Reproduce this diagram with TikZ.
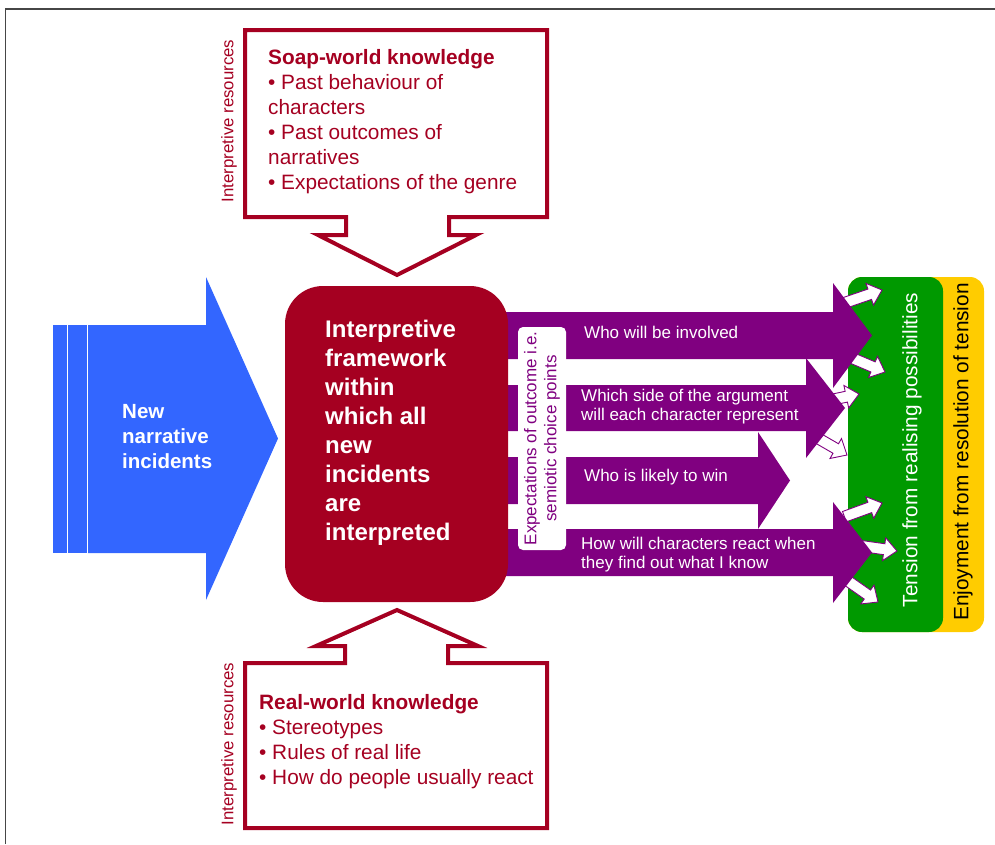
\documentclass[tikz,border=0pt]{standalone}
\usepackage{fontspec}
\setmainfont{Liberation Sans}
\definecolor{soapred}{RGB}{165,0,33}
\definecolor{incidentblue}{RGB}{51,102,255}
\definecolor{choicepurple}{RGB}{128,0,128}
\definecolor{tensiongreen}{RGB}{0,153,0}
\definecolor{enjoyyellow}{RGB}{255,204,0}
\definecolor{framegray}{RGB}{70,70,70}

\tikzset{
  callout/.style={draw=soapred, line width=4pt, fill=white, line join=miter, miter limit=10},
  calltext/.style={anchor=west, align=left, inner sep=0pt, text=soapred,
    font=\fontsize{20.8}{25}\selectfont},
  sidelabel/.style={rotate=90, inner sep=0pt, text=soapred,
    font=\fontsize{16.8}{19}\selectfont},
  choicearrow/.style={fill=choicepurple},
  optiontext/.style={anchor=west, align=left, inner sep=0pt, text=white,
    font=\fontsize{17}{19.5}\selectfont},
  smallarrow/.pic={
    \filldraw[draw=choicepurple, fill=white, line width=0.9pt, line join=miter]
      (-40,-5.5) -- (-13,-5.5) -- (-13,-11.5) -- (0,0) -- (-13,11.5) -- (-13,5.5) -- (-40,5.5) -- cycle;
  },
}

\begin{document}
\begin{tikzpicture}[x=1pt, y=-1pt]
\useasboundingbox (0,0) rectangle (995,844);

% outer frame (left and top edges)
\draw[framegray, line width=1.6pt] (5.5,844) -- (5.5,9) -- (995,9);

% outcome boxes: enjoyment behind tension
\fill[enjoyyellow, rounded corners=14pt] (848,277) rectangle (984,632);
\fill[tensiongreen, rounded corners=14pt] (848,277) rectangle (943,632);
\node[rotate=90, inner sep=0pt, text=white, font=\fontsize{20.8}{25}\selectfont]
  (tension) at (912,450) {Tension from realising possibilities};
\node[rotate=90, inner sep=0pt, text=black, font=\fontsize{20.8}{25}\selectfont]
  (enjoy) at (963,452) {Enjoyment from resolution of tension};

% small arrows feeding the tension box
\pic[rotate=19]  at (882,290) {smallarrow};
\pic[rotate=-23] at (885,372) {smallarrow};
\pic[rotate=12]  at (859,394) {smallarrow};
\pic[rotate=-30] at (847,455) {smallarrow};
\pic[rotate=20]  at (882,503) {smallarrow};
\pic[rotate=-8]  at (897,551) {smallarrow};
\pic[rotate=-35] at (878,602) {smallarrow};

% the four choice-point arrows
\fill[choicearrow] (480,312) -- (833,312) -- (833,283) -- (872,335.5) -- (833,388) -- (833,359) -- (480,359) -- cycle;
\fill[choicearrow] (480,385) -- (806,385) -- (806,358) -- (845,408) -- (806,458) -- (806,431) -- (480,431) -- cycle;
\fill[choicearrow] (480,457) -- (758,457) -- (758,432) -- (790,480.5) -- (758,529) -- (758,504) -- (480,504) -- cycle;
\fill[choicearrow] (480,529) -- (833,529) -- (833,502) -- (872,552.5) -- (833,603) -- (833,576) -- (480,576) -- cycle;

\node[optiontext] (opt1) at (584,332) {Who will be involved};
\node[optiontext] (opt2) at (581,406.5) {Which side of the argument\\will each character represent};
\node[optiontext] (opt3) at (584,477) {Who is likely to win};
\node[optiontext] (opt4) at (581,554.5) {How will characters react when\\they find out what I know};

% incoming narrative incidents (striped block arrow)
\fill[incidentblue] (53,325) rectangle (66.5,553);
\fill[incidentblue] (68,325) rectangle (86.5,553);
\fill[incidentblue] (88,325) -- (206,325) -- (206,277) -- (278,438.5) -- (206,600) -- (206,553) -- (88,553) -- cycle;
\node[anchor=west, align=left, inner sep=0pt, text=white,
  font=\fontsize{20.5}{25}\bfseries] (incidents) at (122,437) {New\\narrative\\incidents};

% interpretive framework
\fill[soapred, rounded corners=38pt] (285,286) rectangle (508,602);
\node[anchor=west, align=left, inner sep=0pt, text=white,
  font=\fontsize{24}{29}\bfseries] (framework) at (325,432.5)
  {Interpretive\\framework\\within\\which all\\new\\incidents\\are\\interpreted};

% expectations label on the arrows
\fill[white, rounded corners=5pt] (518,327) rectangle (566,550);
\node[rotate=90, align=center, inner sep=0pt, text=choicepurple,
  font=\fontsize{17}{20}\selectfont] (expect) at (542,438.5)
  {Expectations of outcome i.e.\\semiotic choice points};

% soap-world knowledge callout
\draw[callout] (245,30) -- (547,30) -- (547,217) -- (449,217) -- (449,235) -- (476,235)
  -- (397,275) -- (318,235) -- (346,235) -- (346,217) -- (245,217) -- cycle;
\node[calltext] (soap) at (268,122)
  {{\bfseries Soap-world knowledge}\\\textbullet\ Past behaviour of\\characters\\\textbullet\ Past outcomes of\\narratives\\\textbullet\ Expectations of the genre};
\node[sidelabel] (resA) at (229,121) {Interpretive resources};

% real-world knowledge callout
\draw[callout] (245,663) -- (345,663) -- (345,646) -- (316,646) -- (397,610) -- (478,646)
  -- (448,646) -- (448,663) -- (547,663) -- (547,828) -- (245,828) -- cycle;
\node[calltext] (real) at (259,741.5)
  {{\bfseries Real-world knowledge}\\\textbullet\ Stereotypes\\\textbullet\ Rules of real life\\\textbullet\ How do people usually react};
\node[sidelabel] (resB) at (229,744) {Interpretive resources};

\end{tikzpicture}
\end{document}
